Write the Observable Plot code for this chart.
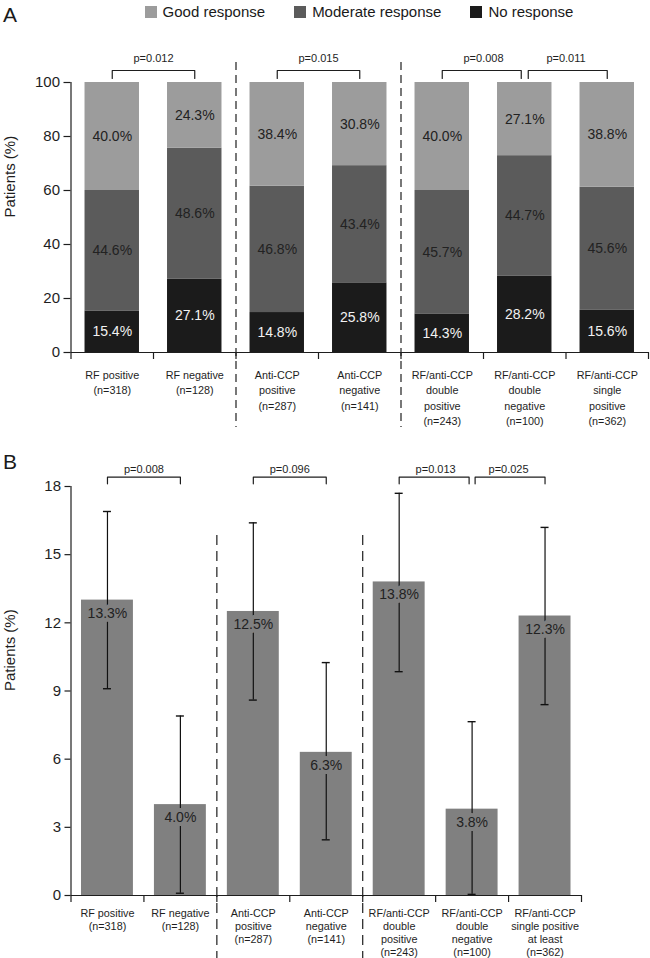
<!DOCTYPE html>
<html>
<head>
<meta charset="utf-8">
<script src="https://cdn.jsdelivr.net/npm/d3@7"></script>
<script src="https://cdn.jsdelivr.net/npm/@observablehq/plot@0.6"></script>
<style>
  body { margin: 0; background: #fff; font-family: "Liberation Sans", Arial, Helvetica, sans-serif; color: #1a1a1a; }
  #wrap { width: 650px; }
  .hdr { position: relative; height: 26px; }
  .letter { position: absolute; left: 3px; font-size: 21px; line-height: 1; }
  .legend { display: flex; justify-content: center; align-items: center; gap: 29px; margin-left: 70px; margin-right: 2px; height: 23px; font-size: 15px; }
  .legend .item { display: flex; align-items: center; white-space: nowrap; }
  .legend .sw { display: inline-block; width: 12px; height: 12px; margin-right: 6px; }
  .bwrap { position: relative; }
  svg { display: block; }
</style>
</head>
<body>
<div id="wrap">
  <div class="hdr">
    <div class="letter" style="top:4px">A</div>
    <div class="legend" id="legend"></div>
  </div>
  <div id="panelA"></div>
  <div class="bwrap">
    <div class="letter" style="top:5px">B</div>
    <div id="panelB"></div>
  </div>
</div>
<script>
// ---------------- data ----------------
const categoriesA = [
  "RF positive\n(n=318)",
  "RF negative\n(n=128)",
  "Anti-CCP\npositive\n(n=287)",
  "Anti-CCP\nnegative\n(n=141)",
  "RF/anti-CCP\ndouble\npositive\n(n=243)",
  "RF/anti-CCP\ndouble\nnegative\n(n=100)",
  "RF/anti-CCP\nsingle\npositive\n(n=362)"
];
const categoriesB = [
  "RF positive\n(n=318)",
  "RF negative\n(n=128)",
  "Anti-CCP\npositive\n(n=287)",
  "Anti-CCP\nnegative\n(n=141)",
  "RF/anti-CCP\ndouble\npositive\n(n=243)",
  "RF/anti-CCP\ndouble\nnegative\n(n=100)",
  "RF/anti-CCP\nsingle positive\nat least\n(n=362)"
];
const responses = ["Good response", "Moderate response", "No response"];
const goodA     = [40.0, 24.3, 38.4, 30.8, 40.0, 27.1, 38.8];
const moderateA = [44.6, 48.6, 46.8, 43.4, 45.7, 44.7, 45.6];
const noneA     = [15.4, 27.1, 14.8, 25.8, 14.3, 28.2, 15.6];
const yTicksA   = [0, 20, 40, 60, 80, 100];
const pairsA    = [[0, 1], [2, 3], [4, 5], [5, 6]];
const pLabelsA  = ["p=0.012", "p=0.015", "p=0.008", "p=0.011"];

const barB      = [13.0, 4.0, 12.5, 6.3, 13.8, 3.8, 12.3];
const barLabelsB = ["13.3%", "4.0%", "12.5%", "6.3%", "13.8%", "3.8%", "12.3%"];
const ciLowB    = [9.1, 0.1, 8.6, 2.45, 9.85, 0.05, 8.4];
const ciHighB   = [16.9, 7.9, 16.4, 10.25, 17.7, 7.65, 16.2];
const yTicksB   = [0, 3, 6, 9, 12, 15, 18];
const pairsB    = [[0, 1], [2, 3], [4, 5], [5, 6]];
const pLabelsB  = ["p=0.008", "p=0.096", "p=0.013", "p=0.025"];
const groupEnds = [1, 3]; // last category index of the first two groups

// ---------------- styles ----------------
const FONT = '"Liberation Sans", Arial, Helvetica, sans-serif';
const responseColors = ["#9c9c9c", "#5b5b5b", "#1b1b1b"];
const barColorB = "#808080";
const ink = "#1e1e1e";

// legend (HTML)
const legend = document.getElementById("legend");
responses.forEach((r, k) => {
  const it = document.createElement("div");
  it.className = "item";
  const sw = document.createElement("span");
  sw.className = "sw";
  sw.style.background = responseColors[k];
  it.appendChild(sw);
  it.appendChild(document.createTextNode(r));
  legend.appendChild(it);
});

const W = 650;
const n = categoriesA.length;
const boundaries = d3.range(n + 1).map(i => i - 0.5);
const separators = groupEnds.map(i => i + 0.5);

function bracketPoints(pairs, unitPx, topVal, legVal, gapPx) {
  const pts = [];
  pairs.forEach(([a, b], k) => {
    const sharedStart = pairs.some(([c, d], j) => j !== k && d === a);
    const sharedEnd = pairs.some(([c, d], j) => j !== k && c === b);
    const xa = a + (sharedStart ? gapPx / unitPx : 0);
    const xb = b - (sharedEnd ? gapPx / unitPx : 0);
    pts.push({id: k, x: xa, y: legVal}, {id: k, x: xa, y: topVal},
             {id: k, x: xb, y: topVal}, {id: k, x: xb, y: legVal});
  });
  return pts;
}

// ---------------- Panel A ----------------
{
  const ml = 70.5, mr = 2, mt = 56, mb = 94, h = 420;
  const unit = (W - ml - mr) / n;
  const pxPer = (h - mt - mb) / 100;
  const up = px => 100 + px / pxPer;
  const down = px => -px / pxPer;
  const halfBar = 0.33;

  const rows = [];
  categoriesA.forEach((c, i) => {
    const vals = [noneA[i], moderateA[i], goodA[i]];
    const names = ["No response", "Moderate response", "Good response"];
    let acc = 0;
    vals.forEach((v, k) => {
      rows.push({i, response: names[k], v, y1: acc, y2: acc + v});
      acc += v;
    });
  });

  const brackets = bracketPoints(pairsA, unit, up(12), up(4), 3.5);
  const pText = pairsA.map(([a, b], k) => ({x: (a + b) / 2, t: pLabelsA[k]}));

  const plotA = Plot.plot({
    width: W, height: h,
    marginLeft: ml, marginRight: mr, marginTop: mt, marginBottom: mb,
    style: {fontFamily: FONT, fontSize: "15px", color: ink, background: "transparent"},
    x: {domain: [-0.5, n - 0.5], axis: null},
    y: {domain: [0, 100], axis: null},
    color: {domain: responses, range: responseColors},
    marks: [
      Plot.rectY(rows, {x1: d => d.i - halfBar, x2: d => d.i + halfBar, y1: "y1", y2: "y2", fill: "response"}),
      Plot.text(rows.filter(d => d.response !== "No response"), {
        x: "i", y: d => (d.y1 + d.y2) / 2, text: d => d.v.toFixed(1) + "%",
        fill: "#222", fontSize: 14
      }),
      Plot.text(rows.filter(d => d.response === "No response"), {
        x: "i", y: d => (d.y1 + d.y2) / 2, text: d => d.v.toFixed(1) + "%",
        fill: "#f2f2f2", fontSize: 14
      }),
      Plot.ruleY([0], {stroke: ink, strokeWidth: 1.2}),
      Plot.ruleX([-0.5], {stroke: ink, strokeWidth: 1.2}),
      Plot.axisY({ticks: yTicksA, tickSize: 7, tickPadding: 4, fontSize: 15, label: null, stroke: ink, strokeWidth: 1.2}),
      Plot.axisX({ticks: boundaries, tickSize: 7, tickFormat: () => "", label: null, stroke: ink, strokeWidth: 1.2}),
      Plot.text(categoriesA, {x: (d, i) => i, text: d => d, frameAnchor: "bottom", dy: 15,
        lineAnchor: "top", lineHeight: 1.44, fontSize: 10.8, fill: ink}),
      Plot.ruleX(separators, {y1: up(20), y2: down(75), stroke: ink, strokeWidth: 1.2, strokeDasharray: "8,5"}),
      Plot.line(brackets, {x: "x", y: "y", z: "id", stroke: ink, strokeWidth: 1.2}),
      Plot.text(pText, {x: "x", y: up(24.5), text: "t", fontSize: 11, fill: ink}),
      Plot.text(["Patients (%)"], {frameAnchor: "left", dx: -(ml - 10), rotate: -90, fontSize: 15, fill: ink})
    ]
  });
  document.getElementById("panelA").appendChild(plotA);
}

// ---------------- Panel B ----------------
{
  const ml = 70.5, mr = 69, mt = 40, mb = 63, h = 512;
  const unit = (W - ml - mr) / n;
  const pxPer = (h - mt - mb) / 18;
  const up = px => 18 + px / pxPer;
  const down = px => -px / pxPer;
  const halfBar = 0.356;
  const cap = 4 / unit;

  const idx = d3.range(n);
  const brackets = bracketPoints(pairsB, unit, up(9.3), up(2.7), 3);
  const pText = pairsB.map(([a, b], k) => ({x: (a + b) / 2, t: pLabelsB[k]}));
  const caps = idx.flatMap(i => [{i, y: ciLowB[i]}, {i, y: ciHighB[i]}]);

  const plotB = Plot.plot({
    width: W, height: h,
    marginLeft: ml, marginRight: mr, marginTop: mt, marginBottom: mb,
    style: {fontFamily: FONT, fontSize: "15px", color: ink, background: "transparent"},
    x: {domain: [-0.5, n - 0.5], axis: null},
    y: {domain: [0, 18], axis: null},
    marks: [
      Plot.rectY(idx, {x1: i => i - halfBar, x2: i => i + halfBar, y1: 0, y2: i => barB[i], fill: barColorB}),
      Plot.ruleX(idx, {x: i => i, y1: i => ciLowB[i], y2: i => ciHighB[i], stroke: "#111", strokeWidth: 1.2}),
      Plot.ruleY(caps, {x1: d => d.i - cap, x2: d => d.i + cap, y: "y", stroke: "#111", strokeWidth: 1.4}),
      Plot.text(idx, {x: i => i, y: i => barB[i], dy: 13, text: i => barLabelsB[i],
        fill: "#222", stroke: barColorB, strokeWidth: 8, fontSize: 14}),
      Plot.ruleY([0], {stroke: ink, strokeWidth: 1.2}),
      Plot.ruleX([-0.5], {stroke: ink, strokeWidth: 1.2}),
      Plot.axisY({ticks: yTicksB, tickSize: 6, tickPadding: 4, fontSize: 15, label: null, stroke: ink, strokeWidth: 1.2}),
      Plot.axisX({ticks: boundaries, tickSize: 7, tickFormat: () => "", label: null, stroke: ink, strokeWidth: 1.2}),
      Plot.text(categoriesB, {x: (d, i) => i, text: d => d, frameAnchor: "bottom", dy: 12,
        lineAnchor: "top", lineHeight: 1.2, fontSize: 10.8, fill: ink}),
      Plot.ruleX(separators, {y1: up(-49), y2: down(63), stroke: ink, strokeWidth: 1.2, strokeDasharray: "10,6"}),
      Plot.line(brackets, {x: "x", y: "y", z: "id", stroke: ink, strokeWidth: 1.2}),
      Plot.text(pText, {x: "x", y: up(17), text: "t", fontSize: 11, fill: ink}),
      Plot.text(["Patients (%)"], {frameAnchor: "left", dx: -(ml - 10), rotate: -90, fontSize: 15, fill: ink})
    ]
  });
  document.getElementById("panelB").appendChild(plotB);
}
</script>
</body>
</html>
